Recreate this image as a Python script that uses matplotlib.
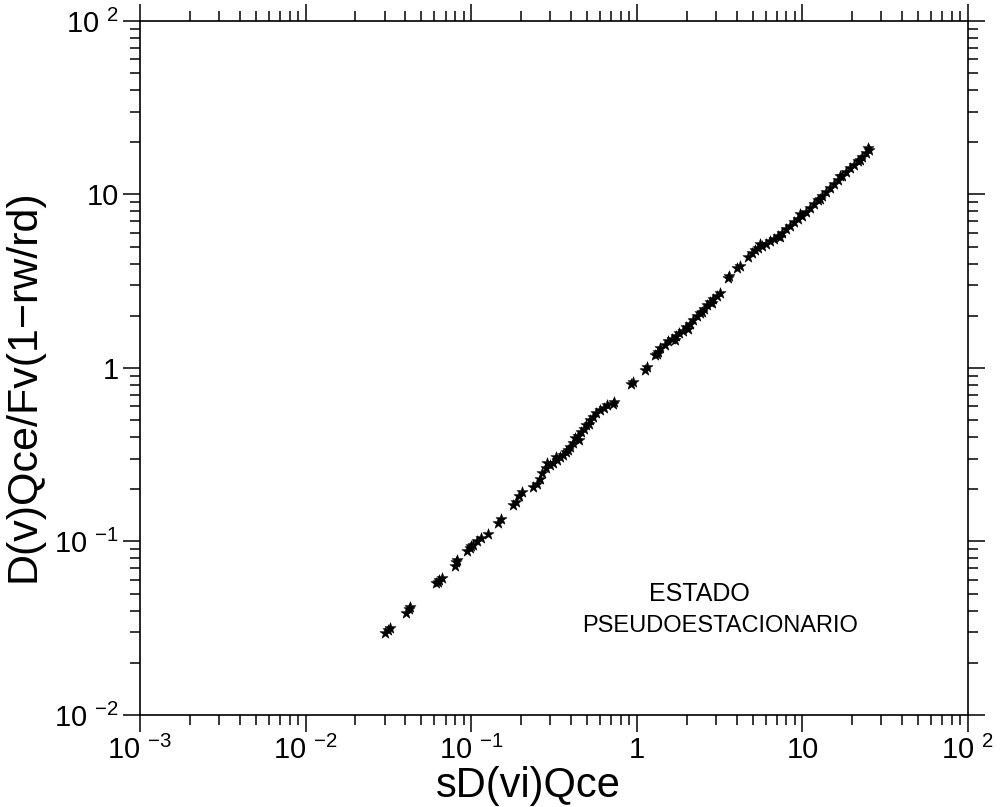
import matplotlib
matplotlib.use("Agg")
import matplotlib.pyplot as plt
from matplotlib.ticker import LogLocator, FixedLocator, FixedFormatter, NullFormatter

plt.rcParams['font.family'] = ['Liberation Sans', 'DejaVu Sans']
plt.rcParams['mathtext.fontset'] = 'custom'
plt.rcParams['mathtext.rm'] = 'Liberation Sans'
plt.rcParams['mathtext.it'] = 'Liberation Sans'
plt.rcParams['mathtext.bf'] = 'Liberation Sans:bold'

# ---- data ----
sD_vi_Qce = [
    0.0302, 0.0315, 0.0323,
    0.0404, 0.0421, 0.0427,
    0.0613, 0.0639, 0.0666, 0.0630,
    0.0798, 0.0810, 0.0821,
    0.0943, 0.0983, 0.1025, 0.1084, 0.1144, 0.0997,
    0.1263,
    0.1451, 0.1513,
    0.1788, 0.1864, 0.1943, 0.2026,
    0.2361, 0.2496, 0.2602, 0.2675,
    0.2829, 0.2990, 0.3118, 0.3297, 0.3437, 0.3583, 0.3736, 0.3950, 0.4118, 0.4234,
    0.4414, 0.4603, 0.4799, 0.4934, 0.5216, 0.5438, 0.5670, 0.5996, 0.6338, 0.6607,
    0.2869, 0.3253, 0.3842, 0.4475, 0.5143,
    0.7183, 0.7283,
    0.9226, 0.9484,
    1.121, 1.152,
    1.288, 1.343, 1.381, 1.324,
    1.480, 1.543, 1.631, 1.725, 1.798, 1.901, 1.982, 2.096, 2.185, 2.310,
    2.408, 2.546, 2.654, 2.767, 2.885, 3.050, 3.180, 1.701, 2.038, 2.476, 2.845,
    3.553, 3.603,
    4.027, 4.200,
    4.693, 4.961, 5.172, 5.393, 5.702, 6.029, 6.373, 6.738, 7.124, 7.530,
    7.962, 8.416, 8.899, 9.406, 9.945, 10.51, 11.11, 11.75, 12.42, 13.13,
    13.88, 14.68, 15.52, 16.41, 17.34, 18.34, 19.39, 20.50, 21.67, 22.91,
    24.22, 25.25, 5.545, 7.324, 9.672, 12.77, 16.87, 22.28, 24.90,
]
DvQce_ratio = [
    0.0297, 0.0309, 0.0317,
    0.0387, 0.0408, 0.0419,
    0.0576, 0.0600, 0.0616, 0.0584,
    0.0722, 0.0762, 0.0782,
    0.0881, 0.0918, 0.0955, 0.1007, 0.1047, 0.0942,
    0.1105,
    0.1278, 0.1348,
    0.1623, 0.1689, 0.1829, 0.1929,
    0.2061, 0.2145, 0.2292, 0.2482,
    0.2652, 0.2760, 0.2834, 0.2950, 0.3069, 0.3152, 0.3281, 0.3506, 0.3697, 0.3950,
    0.4056, 0.4277, 0.4450, 0.4693, 0.5017, 0.5221, 0.5505, 0.5728, 0.5882, 0.6122,
    0.2834, 0.3069, 0.3367, 0.3846, 0.4755,
    0.6204, 0.6370,
    0.8088, 0.8305,
    0.9739, 1.013,
    1.188, 1.236, 1.304, 1.204,
    1.357, 1.431, 1.470, 1.529, 1.591, 1.634, 1.723, 1.793, 1.891, 1.994,
    2.075, 2.188, 2.308, 2.402, 2.499, 2.600, 2.706, 1.450, 1.678, 2.103, 2.369,
    3.302, 3.391,
    3.771, 3.872,
    4.363, 4.600, 4.787, 4.917, 5.049, 5.184, 5.395, 5.540, 5.765, 5.999,
    6.327, 6.583, 6.942, 7.224, 7.516, 7.930, 8.360, 8.816, 9.297, 9.804,
    10.34, 10.90, 11.49, 12.12, 12.79, 13.48, 14.22, 14.79, 15.60, 16.45,
    17.35, 18.05, 5.184, 5.690, 7.720, 9.421, 12.79, 15.81, 18.54,
]

x_ticks = [1e-3, 1e-2, 1e-1, 1, 10, 100]
x_tick_labels = ["10 $^{-3}$", "10 $^{-2}$", "10 $^{-1}$", "1", "10", "10 $^{2}$"]
y_ticks = [1e-2, 1e-1, 1, 10, 100]
y_tick_labels = ["10 $^{-2}$", "10 $^{-1}$", "1", "10", "10 $^{2}$"]

x_title = "sD(vi)Qce"
y_title = "D(v)Qce/Fv(1\u2212rw/rd)"
note_line1 = "ESTADO"
note_line2 = "PSEUDOESTACIONARIO"

# ---- figure ----
fig = plt.figure(figsize=(10, 8.07), dpi=100)
ax = fig.add_axes([0.140, 0.114, 0.828, 0.860])

ax.scatter(sD_vi_Qce, DvQce_ratio, marker='*', s=70, c='black', linewidths=0.4,
           edgecolors='black', zorder=3)

ax.set_xscale('log')
ax.set_yscale('log')
ax.set_xlim(1e-3, 1e2)
ax.set_ylim(1e-2, 1e2)

ax.xaxis.set_major_locator(FixedLocator(x_ticks))
ax.xaxis.set_major_formatter(FixedFormatter(x_tick_labels))
ax.yaxis.set_major_locator(FixedLocator(y_ticks))
ax.yaxis.set_major_formatter(FixedFormatter(y_tick_labels))
ax.xaxis.set_minor_locator(LogLocator(base=10, subs=range(2, 10), numticks=20))
ax.yaxis.set_minor_locator(LogLocator(base=10, subs=range(2, 10), numticks=20))
ax.xaxis.set_minor_formatter(NullFormatter())
ax.yaxis.set_minor_formatter(NullFormatter())

ax.tick_params(which='both', direction='out', top=True, right=True, color='black', width=1.1)
ax.tick_params(which='major', length=12, labelsize=21, pad=3)
ax.tick_params(which='minor', length=7)
for sp in ax.spines.values():
    sp.set_linewidth(1.2)

ax.set_xlabel(x_title, fontsize=30)
ax.xaxis.label.set_verticalalignment('baseline')
ax.xaxis.set_label_coords(0.469, -0.118)
ax.set_ylabel(y_title, fontsize=31)
ax.yaxis.set_label_coords(-0.116, 0.475)

ax.text(0.676, 0.175, note_line1, transform=ax.transAxes, fontsize=18, ha='center', va='center')
ax.text(0.700, 0.128, note_line2, transform=ax.transAxes, fontsize=17, ha='center', va='center')

fig.savefig("out.png", dpi=100, facecolor='white')
